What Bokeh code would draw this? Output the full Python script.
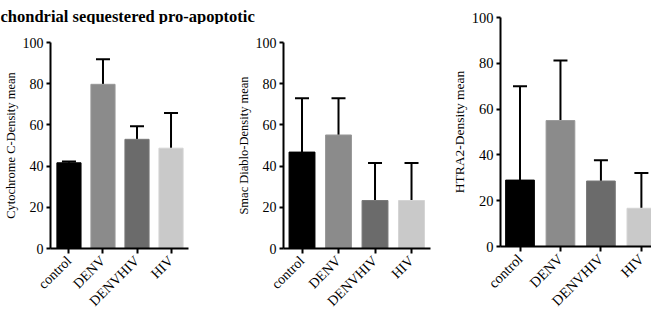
from bokeh.plotting import figure
from bokeh.layouts import row, column
from bokeh.models import (ColumnDataSource, Range1d, FixedTicker, Whisker, TeeHead, Label)
from bokeh.embed import file_html
from bokeh.resources import INLINE

# ---------------- data ----------------
categories = ["control", "DENV", "DENVHIV", "HIV"]
bar_colors = ["#000000", "#8b8b8b", "#6b6b6b", "#c9c9c9"]
edge_colors = ["#000000", "#999999", "#797979", "#d4d4d4"]

cytc_mean = [41.6, 79.7, 53.0, 48.7]
cytc_upper = [42.2, 91.9, 59.3, 65.8]

smac_mean = [46.8, 55.1, 23.3, 23.3]
smac_upper = [72.9, 72.9, 41.5, 41.5]

htra2_mean = [29.0, 55.0, 28.6, 16.7]
htra2_upper = [70.0, 81.2, 37.7, 32.1]

y_ticks = [0, 20, 40, 60, 80, 100]
title_text = "chondrial sequestered pro-apoptotic"

# ---------------- geometry helpers (reference px -> page px) ----------------
SX = 651 / 667
SY = 317 / 333


def X(v):
    return int(round(v * SX))


def Y(v):
    return int(round(v * SY))


SERIF = "Liberation Serif"
TOP_STRIP = 25  # reference px height of the title strip


def make_panel(means, uppers, ylabel, width, height, bl, br, bt, bb,
               xstart, xend, label_size, tick_size):
    xs = list(range(1, len(categories) + 1))
    src = ColumnDataSource(dict(x=xs, top=means, upper=uppers,
                                color=bar_colors, edge=edge_colors))
    p = figure(width=width, height=height, output_backend="svg",
               toolbar_location=None, x_range=Range1d(xstart, xend),
               y_range=Range1d(0, 100), min_border_left=bl, min_border_right=br,
               min_border_top=bt, min_border_bottom=bb, title=None)
    p.outline_line_color = None
    p.grid.visible = False
    p.background_fill_color = "white"
    p.border_fill_color = "white"

    p.vbar(x="x", top="top", bottom=0, width=0.71, source=src,
           fill_color="color", line_color="edge", line_width=1)

    w = Whisker(base="x", lower="top", upper="upper", source=src,
                line_color="black", line_width=2,
                upper_head=TeeHead(size=14, line_color="black", line_width=2),
                lower_head=None)
    p.add_layout(w)

    for ax in (p.xaxis[0], p.yaxis[0]):
        ax.axis_line_color = "black"
        ax.axis_line_width = 2
        ax.major_tick_line_color = "black"
        ax.major_tick_line_width = 2
        ax.major_tick_in = 0
        ax.minor_tick_line_color = None
        ax.major_label_text_font = SERIF
        ax.major_label_text_font_size = tick_size
        ax.major_label_text_color = "black"
        ax.axis_label_text_color = "black"

    # y axis
    ya = p.yaxis[0]
    ya.ticker = FixedTicker(ticks=y_ticks)
    ya.axis_label = ylabel
    ya.axis_label_text_font = SERIF
    ya.axis_label_text_font_style = "normal"
    ya.axis_label_text_font_size = label_size
    ya.axis_label_standoff = 2
    ya.major_label_standoff = 3
    ya.major_tick_out = 4

    # x axis
    xa = p.xaxis[0]
    xa.ticker = FixedTicker(ticks=xs)
    xa.major_label_overrides = {i: c for i, c in zip(xs, categories)}
    xa.major_label_orientation = 0.785398
    xa.major_label_standoff = 5
    xa.major_tick_out = 5
    return p


# title strip (spans panel 1 and 2)
title_w = X(444)
title_h = Y(TOP_STRIP)
pt = figure(width=title_w, height=title_h, output_backend="svg",
            toolbar_location=None, x_range=Range1d(0, title_w),
            y_range=Range1d(0, title_h), x_axis_type=None, y_axis_type=None,
            min_border=0, title=None)
pt.grid.visible = False
pt.outline_line_color = None
pt.add_layout(Label(x=0, y=title_h - 15.5, x_units="data", y_units="data",
                    text=title_text, text_font=SERIF, text_font_style="bold",
                    text_font_size="16.5px", text_color="black",
                    text_baseline="alphabetic", text_align="left"))

row_h = Y(333) - Y(TOP_STRIP)

p1 = make_panel(cytc_mean, cytc_upper, "Cytochrome C-Density mean",
                width=X(222), height=row_h,
                bl=X(51), br=X(222) - X(193), bt=Y(40) - Y(TOP_STRIP),
                bb=Y(333) - Y(269),
                xstart=0.457, xend=4.514, label_size="12.5px", tick_size="14px")

p2 = make_panel(smac_mean, smac_upper, "Smac Diablo-Density mean",
                width=X(444) - X(222), height=row_h,
                bl=X(290) - X(222), br=X(444) - X(441), bt=Y(44) - Y(TOP_STRIP),
                bb=Y(333) - Y(270),
                xstart=0.493, xend=4.52, label_size="12.5px", tick_size="14px")

p3 = make_panel(htra2_mean, htra2_upper, "HTRA2-Density mean",
                width=X(667) - X(444), height=Y(333),
                bl=X(512) - X(444), br=0, bt=Y(18), bb=Y(333) - Y(269),
                xstart=0.518, xend=4.25, label_size="13.5px", tick_size="14.5px")

layout = row(column(pt, row(p1, p2, spacing=0), spacing=0), p3, spacing=0)

open("out.html", "w").write(file_html(layout, INLINE))
